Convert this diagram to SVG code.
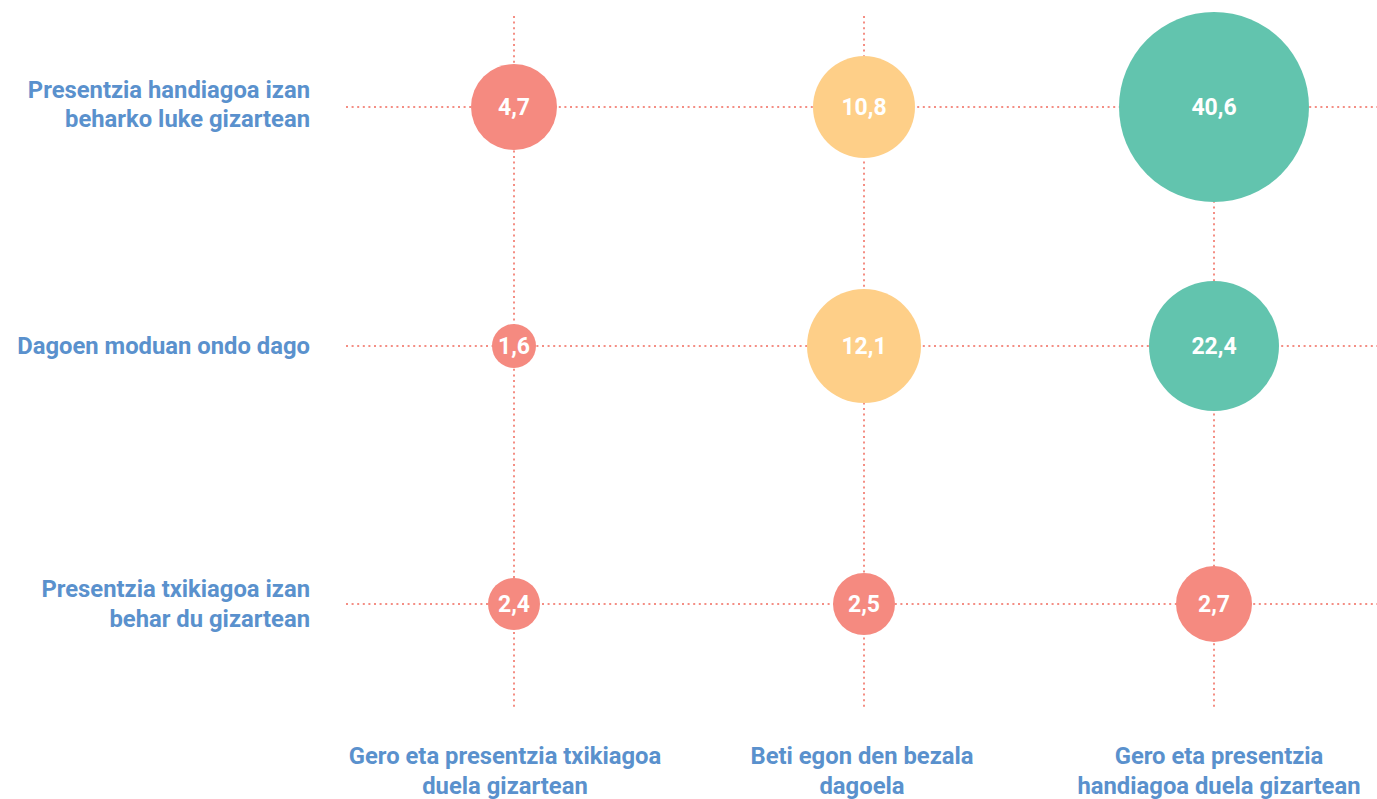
<svg xmlns="http://www.w3.org/2000/svg" width="1377" height="799" viewBox="0 0 1377 799">
<style>
.grid{stroke:#F48E84;stroke-width:2;stroke-dasharray:2 3.6;fill:none}
.lab{font-family:Roboto,"Liberation Sans",sans-serif;font-weight:700;font-size:23.8px;fill:#5A91CD}
.val{font-family:Roboto,"Liberation Sans",sans-serif;font-weight:700;font-size:23px;fill:#FFFFFF;text-anchor:middle}
.r{fill:#F58A80}.o{fill:#FECF88}.g{fill:#62C4AE}
</style>
<rect width="1377" height="799" fill="#FFFFFF"/>
<g id="connectors">
<line class="grid" x1="514" y1="16" x2="514" y2="710"/>
<line class="grid" x1="864" y1="16" x2="864" y2="710"/>
<line class="grid" x1="1214" y1="16" x2="1214" y2="710"/>
<line class="grid" x1="346" y1="107" x2="1377" y2="107"/>
<line class="grid" x1="346" y1="346" x2="1377" y2="346"/>
<line class="grid" x1="346" y1="604" x2="1377" y2="604"/>
</g>
<g id="row-labels" class="lab" text-anchor="end">
<text x="310" y="98">Presentzia handiagoa izan</text>
<text x="310" y="127">beharko luke gizartean</text>
<text x="310" y="354">Dagoen moduan ondo dago</text>
<text x="310" y="597">Presentzia txikiagoa izan</text>
<text x="310" y="627">behar du gizartean</text>
</g>
<g id="col-labels" class="lab" text-anchor="middle">
<text x="505" y="764">Gero eta presentzia txikiagoa</text>
<text x="505" y="794">duela gizartean</text>
<text x="862" y="764">Beti egon den bezala</text>
<text x="862" y="794">dagoela</text>
<text x="1219" y="764">Gero eta presentzia</text>
<text x="1219" y="794">handiagoa duela gizartean</text>
</g>
<g id="n-4-7"><circle class="r" cx="514" cy="107" r="43"/><text class="val" x="514" y="115">4,7</text></g>
<g id="n-10-8"><circle class="o" cx="864" cy="107" r="51"/><text class="val" x="864" y="115">10,8</text></g>
<g id="n-40-6"><circle class="g" cx="1214" cy="107" r="95"/><text class="val" x="1214" y="115">40,6</text></g>
<g id="n-1-6"><circle class="r" cx="514" cy="346" r="22"/><text class="val" x="514" y="354">1,6</text></g>
<g id="n-12-1"><circle class="o" cx="864" cy="346" r="57"/><text class="val" x="864" y="354">12,1</text></g>
<g id="n-22-4"><circle class="g" cx="1214" cy="346" r="65"/><text class="val" x="1214" y="354">22,4</text></g>
<g id="n-2-4"><circle class="r" cx="514" cy="604" r="26"/><text class="val" x="514" y="612">2,4</text></g>
<g id="n-2-5"><circle class="r" cx="864" cy="604" r="31"/><text class="val" x="864" y="612">2,5</text></g>
<g id="n-2-7"><circle class="r" cx="1214" cy="604" r="38"/><text class="val" x="1214" y="612">2,7</text></g>
</svg>
